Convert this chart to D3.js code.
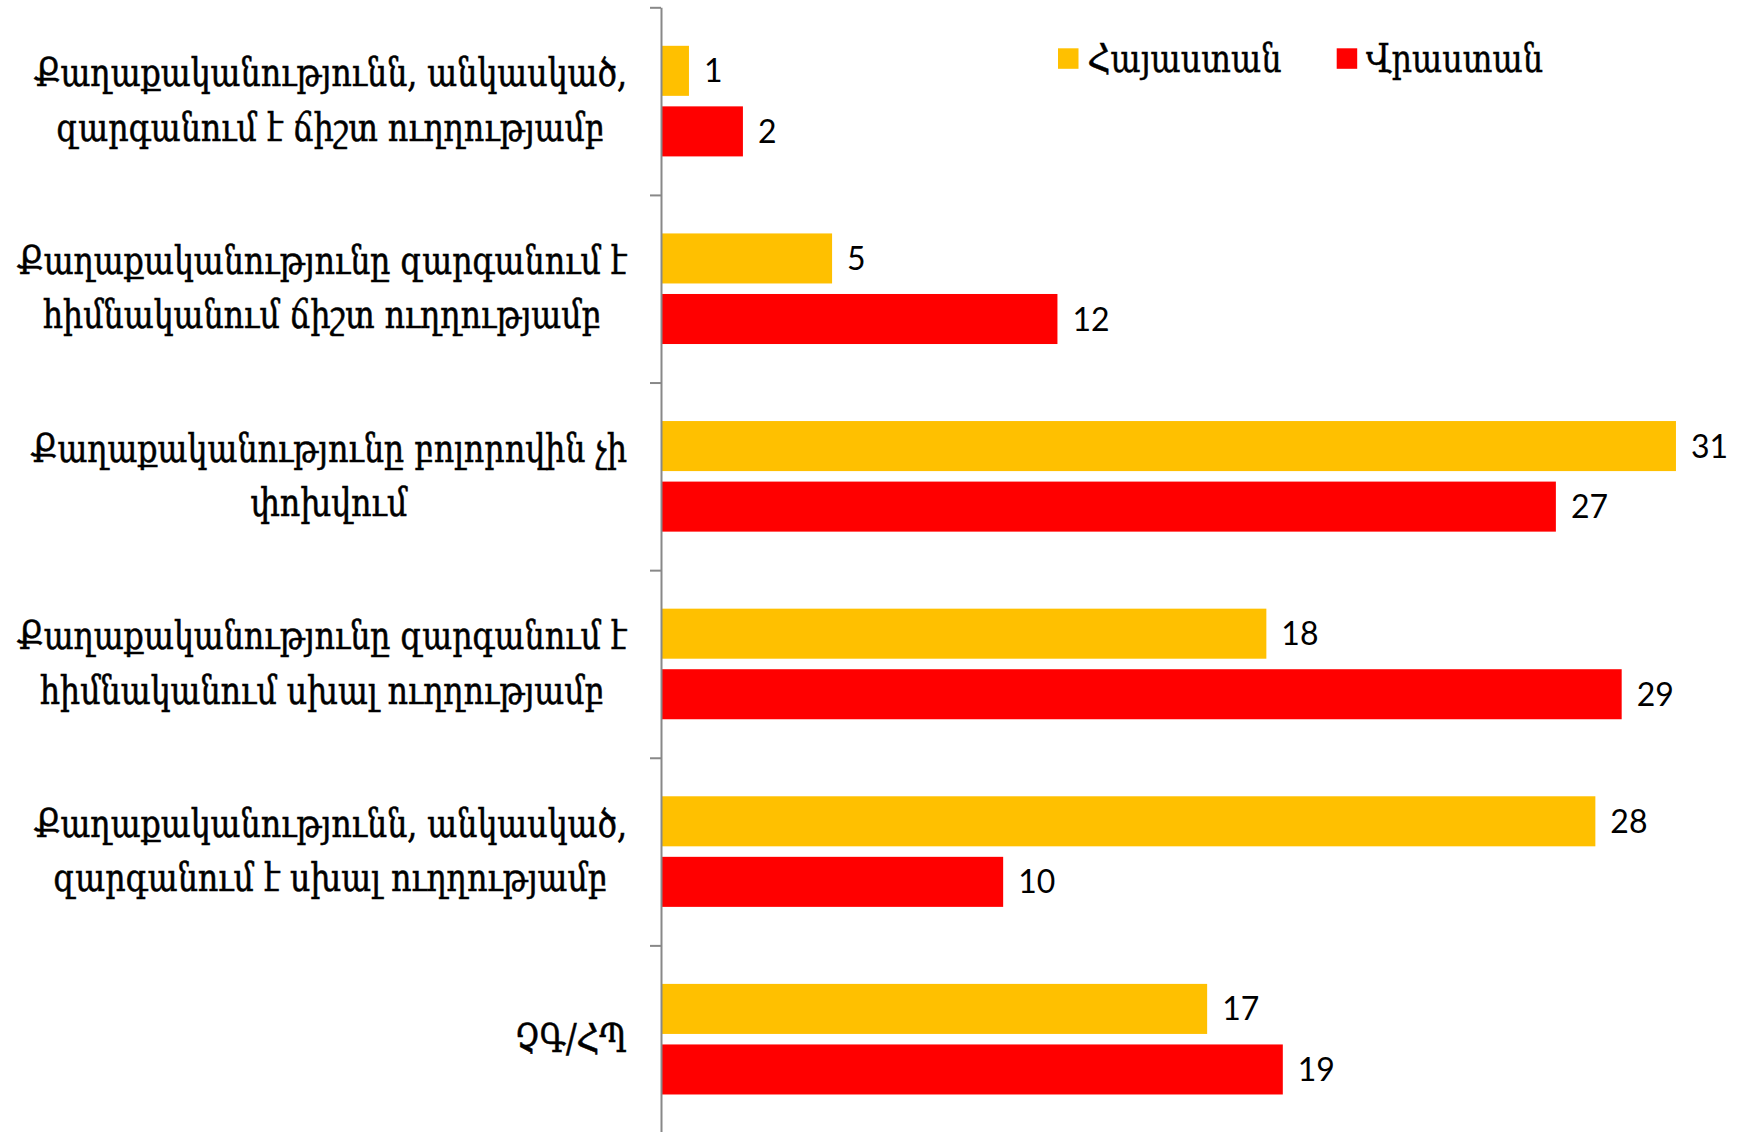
<!DOCTYPE html>
<html>
<head>
<meta charset="utf-8">
<script src="https://cdn.jsdelivr.net/npm/d3@7"></script>
<style>
  html, body { margin: 0; padding: 0; background: #ffffff; }
  svg { display: block; }
</style>
</head>
<body>
<svg id="chart" width="1749" height="1132"></svg>
<script>
// ---------------- DATA ----------------
const categories = [
  "Քաղաքականությունն, անկասկած,\nզարգանում է ճիշտ ուղղությամբ",
  "Քաղաքականությունը զարգանում է\nհիմնականում ճիշտ ուղղությամբ",
  "Քաղաքականությունը բոլորովին չի\nփոխվում",
  "Քաղաքականությունը զարգանում է\nհիմնականում սխալ ուղղությամբ",
  "Քաղաքականությունն, անկասկած,\nզարգանում է սխալ ուղղությամբ",
  "ՉԳ/ՀՊ"
];
const seriesNames = ["Հայաստան", "Վրաստան"];
const armeniaValues = [0.85, 5.2, 30.85, 18.4, 28.4, 16.6];
const georgiaValues = [2.49, 12.05, 27.2, 29.2, 10.4, 18.9];
const seriesColors = ["#FFC000", "#FF0000"];
const xMax = 33;

// ---------------- LAYOUT ----------------
const W = 1749, H = 1132;
const plot = { left: 661, top: 7.3, right: 1746.7, bottom: 1133 };
const labelFont = '"DejaVu Serif Condensed", "DejaVu Serif", serif';
const numFont = 'Lato, "Open Sans", sans-serif';
const vScale = 1.12;

const svg = d3.select("#chart");
svg.append("rect").attr("width", W).attr("height", H).attr("fill", "#ffffff");

const x = d3.scaleLinear().domain([0, xMax]).range([plot.left, plot.right]);
const y = d3.scaleBand().domain(categories).range([plot.top, plot.bottom]).padding(0);
const ys = d3.scaleBand().domain(seriesNames).range([0, y.bandwidth()])
  .paddingInner(0.1736).paddingOuter(0.636);

const seriesValues = [armeniaValues, georgiaValues];
const rows = [];
categories.forEach((c, i) => {
  seriesNames.forEach((s, j) => {
    rows.push({ cat: c, series: s, value: seriesValues[j][i], color: seriesColors[j] });
  });
});

// Bars
svg.append("g").selectAll("rect").data(rows).join("rect")
  .attr("x", x(0))
  .attr("y", d => y(d.cat) + ys(d.series))
  .attr("width", d => x(d.value) - x(0))
  .attr("height", ys.bandwidth())
  .attr("fill", d => d.color);

// Value labels
const fmt = d3.format(".0f");
svg.append("g").selectAll("text").data(rows).join("text")
  .attr("x", d => x(d.value) + 15)
  .attr("y", d => y(d.cat) + ys(d.series) + ys.bandwidth() / 2)
  .attr("dy", "0.36em")
  .attr("font-family", numFont)
  .attr("font-size", 32)
  .attr("fill", "#000")
  .text(d => fmt(d.value));

// Axis (ticks between categories)
const idx = d3.scaleLinear().domain([0, categories.length]).range([plot.top, plot.bottom]);
const axisG = svg.append("g").attr("transform", `translate(${plot.left},0)`)
  .call(d3.axisLeft(idx).tickValues(d3.range(0, categories.length + 1))
    .tickSize(11).tickSizeOuter(0).tickFormat(""));
axisG.select(".domain").attr("stroke", "#888888").attr("stroke-width", 2);
axisG.selectAll(".tick line").attr("stroke", "#888888").attr("stroke-width", 2);

// Category labels
const lineH = 54.4;
const labelRight = 627;
const catG = svg.append("g");
const labelGroups = catG.selectAll("g").data(categories).join("g")
  .attr("transform", c => `translate(0,${y(c) + y.bandwidth() / 2}) scale(1,${vScale})`);
const labels = labelGroups.append("text")
  .attr("font-family", labelFont)
  .attr("font-size", 40)
  .attr("fill", "#000")
  .attr("stroke", "#000")
  .attr("stroke-width", 0.5)
  .attr("text-anchor", "middle");
labels.each(function(c) {
  const lines = c.split("\n");
  d3.select(this).selectAll("tspan").data(lines).join("tspan").text(l => l);
});
let maxW = 0;
labels.selectAll("tspan").each(function() { maxW = Math.max(maxW, this.getComputedTextLength()); });
const fs = 40 * 610 / maxW;
labels.attr("font-size", fs);
labels.each(function(c) {
  const t = d3.select(this);
  const lines = c.split("\n");
  let bw = 0;
  t.selectAll("tspan").each(function() { bw = Math.max(bw, this.getComputedTextLength()); });
  const cx = labelRight - bw / 2;
  t.selectAll("tspan")
    .attr("x", cx)
    .attr("y", (l, i) => ((i - (lines.length - 1) / 2) * lineH + 12.5) / vScale);
});

// Legend
const legendPos = [{ sx: 1058, tx: 1087.5 }, { sx: 1336.7, tx: 1366 }];
const lg = svg.append("g");
lg.selectAll("rect").data(seriesNames).join("rect")
  .attr("x", (d, i) => legendPos[i].sx)
  .attr("y", 48.3)
  .attr("width", 20.5).attr("height", 20.5)
  .attr("fill", (d, i) => seriesColors[i]);
const lt = lg.selectAll("text").data(seriesNames).join("text")
  .attr("transform", `translate(0,71.7) scale(1,${vScale})`)
  .attr("x", (d, i) => legendPos[i].tx)
  .attr("y", 0)
  .attr("font-family", labelFont)
  .attr("font-size", 40)
  .attr("fill", "#000")
  .attr("stroke", "#000")
  .attr("stroke-width", 0.4)
  .text(d => d);
const lw = lt.node().getComputedTextLength();
lt.attr("font-size", 40 * 194 / lw);
</script>
</body>
</html>
